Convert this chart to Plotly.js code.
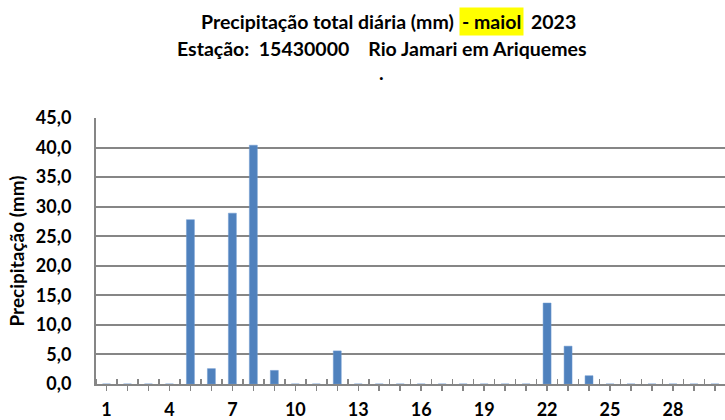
<!DOCTYPE html>
<html><head><meta charset="utf-8">
<script src="https://cdn.plot.ly/plotly-3.0.1.min.js"></script>
<style>html,body{margin:0;padding:0;background:#fff}</style>
</head><body>
<div id="chart" style="width:725px;height:420px"></div>
<script>
const days = Array.from({length: 31}, (_, i) => i + 1);
const precip = [0,0,0,0,27.8,2.6,28.9,40.4,2.3,0,0,5.6,0,0,0,0,0,0,0,0,0,13.7,6.4,1.4,0,0,0,0,0,0,0];
const tickLabels = ['1','','','4','','','7','','','10','','','13','','','16','','','19','','','22','','','25','','','28','','',''];
const titleLine1a = 'Precipitação total diária (mm)';
const titleLine1b = '- maiol';
const titleLine1c = '2023';
const titleLine2 = 'Estação:  15430000    Rio Jamari em Ariquemes';
const yTitle = 'Precipitação (mm)';

const F = 'Lato, "Open Sans", sans-serif';
const W = 725, H = 420, L = 96, R = 0, T = 118, B = 36;
const pw = W - L - R, ph = H - T - B;
const px = x => (x - L) / pw;
const py = y => (H - B - y) / ph;
const tf = {family: F, size: 18, color: '#000', weight: 'bold'};
const hf = {family: F, size: 19.5, color: '#000', weight: 'bold'};

const trace = {
  type: 'bar', x: days, y: precip, width: 0.38,
  marker: {color: '#4F81BD', line: {color: '#6f9bd0', width: 0.5}},
  hoverinfo: 'skip'
};
const layout = {
  width: W, height: H,
  margin: {l: L, r: R, t: T, b: B},
  paper_bgcolor: '#fff', plot_bgcolor: '#fff',
  separators: ', ',
  font: {family: F, color: '#000'},
  showlegend: false,
  xaxis: {
    type: 'linear', range: [0.5, 30.48], fixedrange: true,
    tickmode: 'array', tickvals: days, ticktext: tickLabels,
    ticks: 'outside', ticklen: 5, tickwidth: 1.5, tickcolor: '#868686',
    ticklabelstandoff: 3,
    tickfont: tf,
    showline: true, linecolor: '#868686', linewidth: 2,
    showgrid: false, zeroline: false,
    minor: {tickmode: 'linear', tick0: 0.5, dtick: 1, ticks: 'inside', ticklen: 5, tickwidth: 1.5, tickcolor: '#868686', showgrid: false}
  },
  yaxis: {
    range: [0, 45], dtick: 5, tick0: 0, tickformat: '.1f', fixedrange: true,
    ticks: '', ticklabelstandoff: 19,
    tickfont: tf,
    showline: true, linecolor: '#868686', linewidth: 2,
    showgrid: true, gridcolor: '#868686', gridwidth: 2,
    zeroline: false,
    title: {text: yTitle, font: {family: F, size: 19, color: '#000', weight: 'bold'}, standoff: 6}
  },
  annotations: [
    {text: titleLine1a, xref: 'paper', yref: 'paper', x: px(456), y: py(21), xanchor: 'right', yanchor: 'middle', showarrow: false, font: hf},
    {text: titleLine1b, xref: 'paper', yref: 'paper', x: px(459), y: py(21), xanchor: 'left', yanchor: 'middle', showarrow: false, bgcolor: '#FFFF00', borderpad: 2, font: hf},
    {text: titleLine1c, xref: 'paper', yref: 'paper', x: px(529), y: py(21), xanchor: 'left', yanchor: 'middle', showarrow: false, font: hf},
    {text: titleLine2, xref: 'paper', yref: 'paper', x: px(381), y: py(48), xanchor: 'center', yanchor: 'middle', showarrow: false, font: hf},
    {text: '.', xref: 'paper', yref: 'paper', x: px(381), y: py(72), xanchor: 'center', yanchor: 'middle', showarrow: false, font: hf}
  ]
};
Plotly.newPlot('chart', [trace], layout, {displayModeBar: false, staticPlot: true});
</script>
</body></html>
